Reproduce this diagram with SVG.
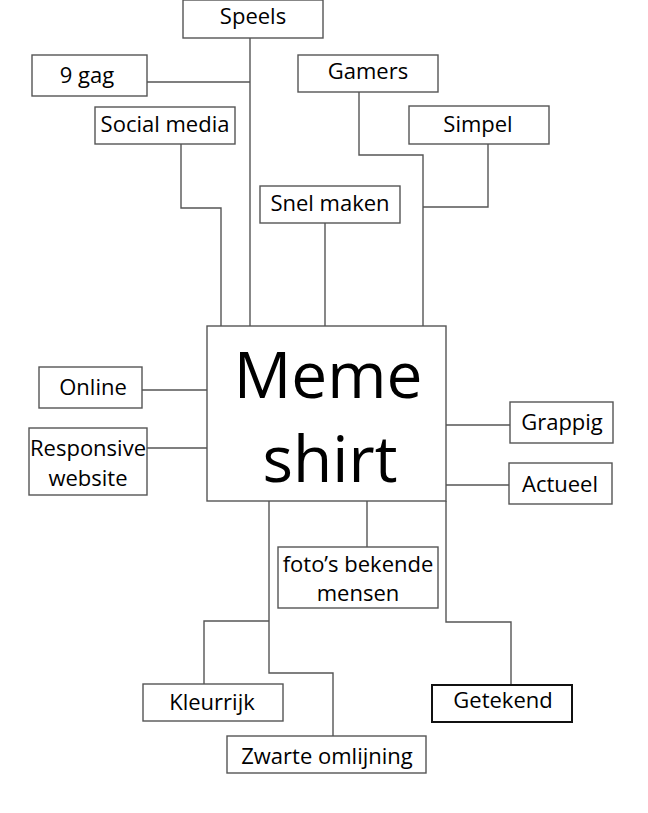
<svg xmlns="http://www.w3.org/2000/svg" width="648" height="813" viewBox="0 0 648 813">
<style>
.b{fill:#fff;stroke:#555;stroke-width:1.4}
.t{font-family:"Open Sans","Liberation Sans",sans-serif;font-size:22px;fill:#000;text-anchor:middle}
.c{fill:none;stroke:#555;stroke-width:1.4}
</style>
<rect width="648" height="813" fill="#fff"/>
<g id="connectors">
<polyline class="c" points="250,38 250,326"/>
<polyline class="c" points="147,82 250,82"/>
<polyline class="c" points="181,144 181,208 221,208 221,326"/>
<polyline class="c" points="325,223 325,326"/>
<polyline class="c" points="359,92 359,155 423,155 423,326"/>
<polyline class="c" points="488,144 488,207 423,207"/>
<polyline class="c" points="142,390 207,390"/>
<polyline class="c" points="147,448 207,448"/>
<polyline class="c" points="446,425 510,425"/>
<polyline class="c" points="446,485 509,485"/>
<polyline class="c" points="367,501 367,547"/>
<polyline class="c" points="269,501 269,673 333,673 333,736"/>
<polyline class="c" points="269,621 204,621 204,684"/>
<polyline class="c" points="446,501 446,622 511,622 511,685"/>
</g>
<g id="center"><rect class="b" x="207" y="326" width="239" height="175"/>
<text class="t" x="328" y="398" style="font-size:64px">Meme</text>
<text class="t" x="330" y="482" style="font-size:64px">shirt</text></g>
<g id="speels"><rect class="b" x="183" y="0" width="140" height="38"/><text class="t" x="253" y="24">Speels</text></g>
<g id="gag"><rect class="b" x="32" y="55" width="115" height="41"/><text class="t" x="87" y="83">9 gag</text></g>
<g id="social"><rect class="b" x="95" y="107" width="140" height="37"/><text class="t" x="165" y="132">Social media</text></g>
<g id="snel"><rect class="b" x="260" y="186" width="140" height="37"/><text class="t" x="330" y="211">Snel maken</text></g>
<g id="gamers"><rect class="b" x="298" y="55" width="140" height="37"/><text class="t" x="368" y="79">Gamers</text></g>
<g id="simpel"><rect class="b" x="409" y="106" width="140" height="38"/><text class="t" x="478" y="132">Simpel</text></g>
<g id="online"><rect class="b" x="39" y="367" width="103" height="41"/><text class="t" x="93" y="395">Online</text></g>
<g id="responsive"><rect class="b" x="29" y="428" width="118" height="67"/><text class="t" x="88" y="456">Responsive</text><text class="t" x="88" y="486">website</text></g>
<g id="grappig"><rect class="b" x="510" y="402" width="103" height="41"/><text class="t" x="562" y="430">Grappig</text></g>
<g id="actueel"><rect class="b" x="509" y="463" width="103" height="41"/><text class="t" x="560" y="492">Actueel</text></g>
<g id="fotos"><rect class="b" x="278" y="547" width="160" height="61"/><text class="t" x="358" y="572">foto’s bekende</text><text class="t" x="358" y="601">mensen</text></g>
<g id="kleurrijk"><rect class="b" x="143" y="684" width="140" height="37"/><text class="t" x="212" y="710">Kleurrijk</text></g>
<g id="zwarte"><rect class="b" x="227" y="736" width="199" height="37"/><text class="t" x="327" y="764">Zwarte omlijning</text></g>
<g id="getekend"><rect class="b" x="432" y="685" width="140" height="37" style="stroke:#111;stroke-width:2"/><text class="t" x="503" y="708">Getekend</text></g>
</svg>
